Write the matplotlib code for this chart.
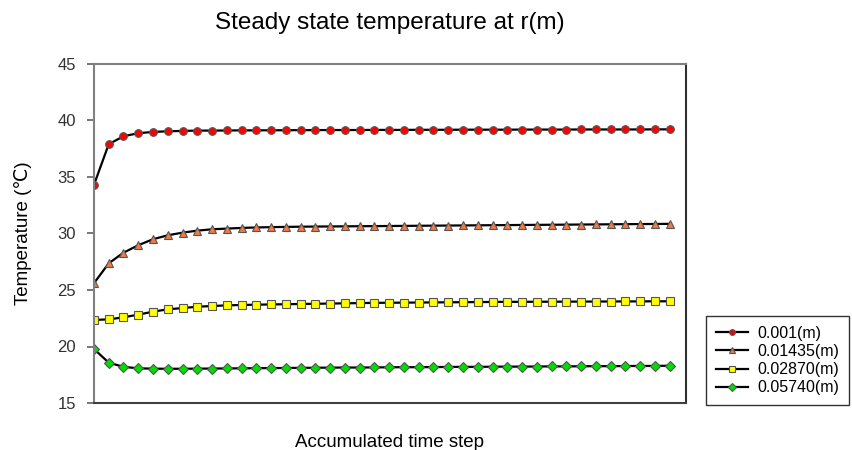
import matplotlib
matplotlib.use("Agg")
import matplotlib.pyplot as plt
import numpy as np

plt.rcParams["font.family"] = ["Liberation Sans", "DejaVu Sans"]

STEPS = np.arange(1, 41)
LABELS = ["0.001(m)", "0.01435(m)", "0.02870(m)", "0.05740(m)"]

r_0001 = [34.3, 37.9, 38.6, 38.87, 38.98, 39.04, 39.07, 39.1, 39.1, 39.11,
          39.12, 39.12, 39.13, 39.13, 39.14, 39.14, 39.15, 39.15, 39.15, 39.16,
          39.16, 39.16, 39.17, 39.17, 39.17, 39.18, 39.18, 39.18, 39.18, 39.19,
          39.19, 39.19, 39.19, 39.2, 39.2, 39.2, 39.2, 39.2, 39.21, 39.21]
r_01435 = [25.6, 27.36, 28.3, 28.96, 29.49, 29.84, 30.07, 30.25, 30.37, 30.43,
           30.49, 30.53, 30.56, 30.58, 30.6, 30.61, 30.62, 30.63, 30.64, 30.65,
           30.66, 30.67, 30.68, 30.69, 30.7, 30.71, 30.72, 30.73, 30.74, 30.75,
           30.76, 30.77, 30.78, 30.79, 30.8, 30.81, 30.82, 30.83, 30.84, 30.85]
r_02870 = [22.35, 22.4, 22.58, 22.82, 23.08, 23.29, 23.4, 23.52, 23.58, 23.64,
           23.67, 23.7, 23.72, 23.74, 23.76, 23.78, 23.8, 23.82, 23.84, 23.86,
           23.87, 23.88, 23.89, 23.9, 23.91, 23.92, 23.93, 23.94, 23.95, 23.95,
           23.96, 23.96, 23.97, 23.97, 23.98, 23.98, 23.99, 23.99, 24.0, 24.0]
r_05740 = [19.78, 18.57, 18.2, 18.07, 18.04, 18.03, 18.03, 18.04, 18.05, 18.06,
           18.07, 18.08, 18.09, 18.1, 18.11, 18.12, 18.13, 18.14, 18.14, 18.15,
           18.16, 18.17, 18.17, 18.18, 18.19, 18.2, 18.2, 18.21, 18.22, 18.22,
           18.23, 18.24, 18.24, 18.25, 18.26, 18.26, 18.27, 18.28, 18.28, 18.3]

SERIES = [r_0001, r_01435, r_02870, r_05740]
MARKERS = ["o", "^", "s", "D"]
FACES = ["#ff0000", "#f07a45", "#ffff00", "#00dd00"]
SIZES = [5.5, 5.5, 5.5, 5]

fig = plt.figure(figsize=(8.52, 4.5), dpi=100)
ax = fig.add_axes([0.1103, 0.1044, 0.6947, 0.7536])

for vals, lab, m, fc, ms in zip(SERIES, LABELS, MARKERS, FACES, SIZES):
    ax.plot(STEPS, vals, color="black", lw=1.6, marker=m, markersize=ms,
            markerfacecolor=fc, markeredgecolor="#555555", markeredgewidth=0.8,
            label=lab)

ax.set_xlim(1, 41.1)
ax.set_ylim(15, 45)
ax.set_yticks([15, 20, 25, 30, 35, 40, 45])
ax.set_xticks([])
ax.tick_params(axis="y", direction="out", length=5, width=1.2, color="#606060",
               labelsize=12, labelcolor="#333333", pad=8)

ax.spines["left"].set_color("#808080")
ax.spines["top"].set_color("#808080")
ax.spines["right"].set_color("#303030")
ax.spines["bottom"].set_color("#404040")
for s in ax.spines.values():
    s.set_linewidth(1.5)

ax.set_ylabel("Temperature (\u2103)", fontsize=13.5, labelpad=18)
ax.set_xlabel("Accumulated time step", fontsize=13.5, labelpad=22)
fig.text(0.458, 0.948, "Steady state temperature at r(m)", fontsize=17.5,
         ha="center", va="center")

leg = fig.legend(loc="lower left", bbox_to_anchor=(0.829, 0.1),
                 frameon=True, fancybox=False, fontsize=11.5, handlelength=2.0,
                 borderpad=0.6, labelspacing=0.2, handletextpad=0.6,
                 borderaxespad=0, markerscale=0.75)
leg.get_frame().set_edgecolor("black")
leg.get_frame().set_linewidth(1.0)

fig.savefig("out.png", dpi=100)
